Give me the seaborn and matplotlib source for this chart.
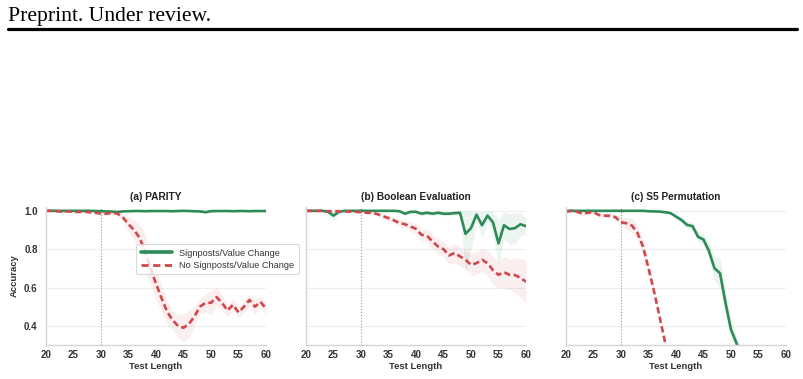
import numpy as np
import pandas as pd
import matplotlib
matplotlib.use("Agg")
import matplotlib.pyplot as plt
import seaborn as sns
from matplotlib.lines import Line2D

# ---------------- data ----------------
test_length = list(range(20, 61))

titles = ["(a) PARITY", "(b) Boolean Evaluation", "(c) S5 Permutation"]
series_names = ["Signposts/Value Change", "No Signposts/Value Change"]

# (a) PARITY
a_sig = [1.0, 1.0, 1.0, 1.0, 1.0, 1.0, 1.0, 1.0, 1.0, 0.999, 0.998,
         0.997, 0.996, 0.994, 0.997, 0.998, 0.999, 0.999, 0.998, 0.999, 0.999,
         0.999, 0.999, 0.998, 0.999, 1.0, 0.999, 0.998, 0.997, 0.993, 0.998,
         0.999, 0.999, 0.999, 0.998, 0.999, 0.999, 0.998, 0.999, 0.999, 0.999]
a_sig_err = [0.003] * 41
a_nosig = [1.0, 1.0, 0.998, 0.995, 0.997, 0.995, 0.994, 0.996, 0.992, 0.99, 0.985,
           0.985, 0.99, 0.985, 0.965, 0.93, 0.90, 0.86, 0.79, 0.70, 0.62,
           0.545, 0.475, 0.43, 0.40, 0.39, 0.41, 0.45, 0.50, 0.52, 0.52,
           0.55, 0.52, 0.48, 0.51, 0.47, 0.50, 0.535, 0.50, 0.525, 0.49]
a_nosig_err = [0.005, 0.005, 0.005, 0.005, 0.005, 0.005, 0.005, 0.005, 0.005, 0.005, 0.006,
               0.008, 0.008, 0.008, 0.02, 0.04, 0.05, 0.07, 0.09, 0.09, 0.08,
               0.07, 0.06, 0.05, 0.06, 0.07, 0.07, 0.05, 0.04, 0.05, 0.06,
               0.05, 0.04, 0.03, 0.03, 0.03, 0.03, 0.03, 0.04, 0.03, 0.03]

# (b) Boolean Evaluation
b_sig = [1.0, 1.0, 1.0, 1.0, 0.995, 0.975, 0.995, 1.0, 1.0, 1.0, 1.0,
         1.0, 1.0, 1.0, 1.0, 1.0, 1.0, 0.998, 0.985, 0.995, 0.995,
         0.985, 0.99, 0.985, 0.99, 0.985, 0.985, 0.988, 0.99, 0.88, 0.91,
         0.98, 0.925, 0.975, 0.94, 0.83, 0.925, 0.905, 0.91, 0.93, 0.92]
b_sig_err = [0.003, 0.003, 0.003, 0.003, 0.01, 0.025, 0.01, 0.003, 0.003, 0.003, 0.003,
             0.003, 0.003, 0.003, 0.003, 0.003, 0.003, 0.005, 0.01, 0.008, 0.008,
             0.01, 0.01, 0.01, 0.01, 0.01, 0.01, 0.01, 0.01, 0.20, 0.12,
             0.03, 0.07, 0.03, 0.06, 0.12, 0.07, 0.08, 0.08, 0.06, 0.04]
b_nosig = [1.0, 1.0, 1.0, 1.0, 0.998, 0.998, 0.998, 0.997, 0.996, 0.995, 0.993,
           0.99, 0.99, 0.983, 0.972, 0.962, 0.95, 0.936, 0.93, 0.918, 0.906,
           0.875, 0.87, 0.84, 0.814, 0.80, 0.767, 0.78, 0.762, 0.745, 0.718,
           0.727, 0.745, 0.727, 0.69, 0.666, 0.68, 0.666, 0.665, 0.65, 0.63]
b_nosig_err = [0.004, 0.004, 0.004, 0.004, 0.004, 0.004, 0.004, 0.004, 0.004, 0.004, 0.005,
               0.006, 0.008, 0.01, 0.012, 0.015, 0.015, 0.02, 0.02, 0.025, 0.03,
               0.03, 0.035, 0.04, 0.04, 0.04, 0.045, 0.05, 0.05, 0.05, 0.055,
               0.06, 0.06, 0.065, 0.07, 0.07, 0.08, 0.08, 0.09, 0.10, 0.11]

# (c) S5 Permutation
c_sig = [1.0, 1.0, 1.0, 1.0, 1.0, 1.0, 1.0, 1.0, 1.0, 1.0, 1.0,
         1.0, 1.0, 1.0, 1.0, 0.998, 0.997, 0.996, 0.993, 0.988, 0.97,
         0.952, 0.927, 0.92, 0.865, 0.85, 0.79, 0.70, 0.675, 0.52, 0.38,
         0.31, 0.22, 0.15, 0.12, 0.10, 0.08, 0.07, 0.06, 0.05, 0.05]
c_sig_err = [0.002, 0.002, 0.002, 0.002, 0.002, 0.002, 0.002, 0.002, 0.002, 0.002, 0.002,
             0.002, 0.002, 0.002, 0.003, 0.003, 0.003, 0.003, 0.004, 0.006, 0.01,
             0.015, 0.02, 0.02, 0.025, 0.03, 0.04, 0.06, 0.08, 0.06, 0.05,
             0.04, 0.04, 0.03, 0.03, 0.03, 0.02, 0.02, 0.02, 0.02, 0.02]
c_nosig = [0.996, 1.0, 0.995, 0.985, 0.99, 0.993, 0.978, 0.975, 0.974, 0.967, 0.94,
           0.935, 0.923, 0.884, 0.814, 0.70, 0.58, 0.45, 0.315, 0.18, 0.10,
           0.06, 0.04, 0.03, 0.03, 0.02, 0.02, 0.02, 0.02, 0.02, 0.02,
           0.02, 0.02, 0.02, 0.02, 0.02, 0.02, 0.02, 0.02, 0.02, 0.02]
c_nosig_err = [0.004, 0.004, 0.006, 0.008, 0.008, 0.008, 0.01, 0.01, 0.01, 0.012, 0.02,
               0.03, 0.04, 0.04, 0.035, 0.03, 0.025, 0.02, 0.02, 0.02, 0.02,
               0.01, 0.01, 0.01, 0.01, 0.01, 0.01, 0.01, 0.01, 0.01, 0.01,
               0.01, 0.01, 0.01, 0.01, 0.01, 0.01, 0.01, 0.01, 0.01, 0.01]

x_ticks = [20, 25, 30, 35, 40, 45, 50, 55, 60]
y_ticks = [0.4, 0.6, 0.8, 1.0]
y_tick_labels = ["0.4", "0.6", "0.8", "1.0"]

panels = [
    (a_sig, a_sig_err, a_nosig, a_nosig_err),
    (b_sig, b_sig_err, b_nosig, b_nosig_err),
    (c_sig, c_sig_err, c_nosig, c_nosig_err),
]

# ---------------- style ----------------
sns.set_theme(style="whitegrid")
plt.rcParams['font.family'] = ['Liberation Sans', 'DejaVu Sans']

GREEN = "#2e8b57"
RED = "#d0474c"
palette = {series_names[0]: GREEN, series_names[1]: RED}
dash_map = {series_names[0]: "", series_names[1]: (2.4, 1.3)}

W, H = 804, 379
fig = plt.figure(figsize=(W / 100, H / 100), dpi=100)

# page header
fig.text(8 / W, 1 - 21 / H, "Preprint. Under review.", family=["Liberation Serif"],
         fontsize=15.6, ha="left", va="baseline", color="black")
fig.add_artist(Line2D([8 / W, 797 / W], [1 - 29 / H, 1 - 29 / H],
                      transform=fig.transFigure, color="black", lw=2.3))

lefts = [46, 306, 566]
ax_w = 220
ax_top, ax_bot = 207, 345

axes = []
for i, (sig, sig_err, nos, nos_err) in enumerate(panels):
    ax = fig.add_axes([lefts[i] / W, 1 - ax_bot / H, ax_w / W, (ax_bot - ax_top) / H])
    axes.append(ax)
    df = pd.DataFrame({
        "Test Length": test_length * 2,
        "Accuracy": sig + nos,
        "Method": [series_names[0]] * len(test_length) + [series_names[1]] * len(test_length),
    })
    x = np.array(test_length)
    for vals, errs, col in [(sig, sig_err, GREEN), (nos, nos_err, RED)]:
        v = np.array(vals)
        e = np.array(errs)
        ax.fill_between(x, v - e, np.minimum(v + e, 1.0), color=col, alpha=0.09, lw=0)
    sns.lineplot(data=df, x="Test Length", y="Accuracy", hue="Method", style="Method",
                 palette=palette, dashes=dash_map, linewidth=1.9, legend=False,
                 errorbar=None, ax=ax)
    ax.axvline(30, color="#999999", ls=":", lw=0.8, zorder=1)
    ax.set_xlim(20, 60)
    ax.set_ylim(0.3, 1.02)
    ax.set_xticks(x_ticks)
    ax.set_xticklabels([str(t) for t in x_ticks])
    ax.set_yticks(y_ticks)
    ax.grid(axis="x", visible=False)
    ax.grid(axis="y", color="#efefef", lw=0.8)
    for s in ["top", "right"]:
        ax.spines[s].set_visible(False)
    for s in ["left", "bottom"]:
        ax.spines[s].set_color("#d5d5d5")
        ax.spines[s].set_linewidth(1.0)
    ax.tick_params(axis="both", labelsize=7, length=0, colors="#333333")
    ax.tick_params(axis="x", pad=3.5)
    ax.tick_params(axis="y", pad=6)
    for lbl in ax.get_xticklabels():
        lbl.set_fontweight("bold")
    if i == 0:
        ax.set_yticklabels(y_tick_labels)
        for lbl in ax.get_yticklabels():
            lbl.set_fontweight("bold")
        ax.set_ylabel("Accuracy", fontsize=6.8, fontweight="bold", color="#333333", labelpad=4)
    else:
        ax.set_yticklabels([])
        ax.set_ylabel("")
    ax.set_xlabel("Test Length", fontsize=6.8, fontweight="bold", color="#333333", labelpad=1.5)
    ax.set_title(titles[i], fontsize=7.3, fontweight="bold", color="#222222", pad=5)

handles = [
    Line2D([], [], color=GREEN, lw=2.6),
    Line2D([], [], color=RED, lw=2.0, dashes=(2.6, 1.6)),
]
leg = axes[0].legend(handles, series_names, loc="upper left",
                     bbox_to_anchor=(136 / W, 1 - 244 / H), bbox_transform=fig.transFigure,
                     fontsize=6.6, frameon=True, handlelength=3.4, borderpad=0.5,
                     labelspacing=0.35, handletextpad=0.8, borderaxespad=0)
leg.get_frame().set_edgecolor("#d0d0d0")
leg.get_frame().set_linewidth(0.8)
for t in leg.get_texts():
    t.set_color("#333333")
leg.set_zorder(10)

fig.savefig("out.png", dpi=100)
